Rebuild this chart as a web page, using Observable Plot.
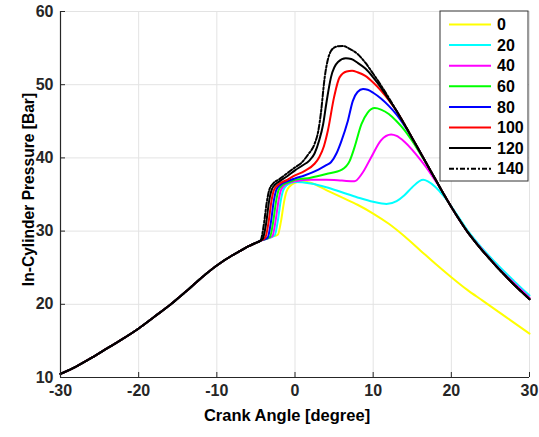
<!DOCTYPE html>
<html>
<head>
<meta charset="utf-8">
<script src="https://cdn.jsdelivr.net/npm/d3@7"></script>
<script src="https://cdn.jsdelivr.net/npm/@observablehq/plot@0.6"></script>
<style>
  html, body { margin: 0; padding: 0; background: #fff; }
  #chart { width: 539px; height: 437px; overflow: hidden; }
</style>
</head>
<body>
<div id="chart"></div>
<script>
// ---- Data ----
const xTicks = [-30, -20, -10, 0, 10, 20, 30];
const yTicks = [10, 20, 30, 40, 50, 60];
const seriesNames = ["0", "20", "40", "60", "80", "100", "120", "140"];
const seriesColors = ["#ffff00", "#00ffff", "#ff00ff", "#00ff00", "#0000ff", "#ff0000", "#000000", "#000000"];

// shared compression stroke
const compression = [[-30,10.5],[-28,11.5],[-26,12.7],[-24,14.0],[-22,15.3],[-20,16.7],[-18,18.3],[-16,19.9],[-14,21.7],[-12,23.6],[-10,25.3],[-8,26.7],[-7,27.3],[-6,27.9],[-5,28.4]];
// shared expansion tail
const expansion = [[13,46.4],[14,44.6],[15,42.7],[16,40.8],[17,38.9],[18,37.0],[19,35.1],[20,33.3],[21,31.6],[22,30.0],[23,28.6],[24,27.3],[25,26.1],[26,24.9],[27,23.8],[28,22.7],[29,21.7],[30,20.7]];

const s0   = [[-4.4,28.7],[-3,29.2],[-2.2,29.5],[-1.8,31.3],[-1.4,34.0],[-1.1,35.4],[-0.6,36.2],[0,36.6],[1,36.8],[2,36.6],[4,35.6],[6,34.6],[8,33.6],[10,32.4],[12,31.0],[14,29.3],[16,27.4],[18,25.5],[20,23.7],[22,22.0],[24,20.5],[26,19.0],[28,17.5],[30,16.0]];
const s20  = [[-4.4,28.7],[-2.6,29.4],[-2.2,31.4],[-1.8,34.3],[-1.5,35.6],[-1.0,36.3],[0,36.7],[2,36.5],[4,36.0],[6,35.3],[8,34.6],[10,34.0],[11.7,33.7],[13,34.1],[14,34.9],[15,36.0],[16.4,37.0],[17,36.8],[18,36.0],[19,34.8],[20,33.4],[21,31.8],[22,30.2],[24,27.6],[26,25.3],[28,23.2],[30,21.2]];
const s40  = [[-4.4,28.7],[-2.9,29.3],[-2.5,31.3],[-2.1,34.2],[-1.8,35.6],[-1.3,36.3],[0,36.8],[2,37.0],[4,37.0],[6,36.9],[7.6,36.8],[8.6,37.9],[9.7,40.0],[11,42.4],[12.3,43.2],[13,43.0],[14,42.2],[15,41.1],[16,39.8],[17,38.4],[18,36.8],[19,35.1],[20,33.3],[22,30.0],[24,27.4],[26,25.0],[28,22.9],[30,20.9]];
const s60  = [[-4.4,28.7],[-3.2,29.2],[-2.8,31.2],[-2.4,34.2],[-2.1,35.6],[-1.6,36.3],[-1,36.6],[0,37.0],[2,37.3],[4,37.8],[6,38.4],[7,39.6],[7.6,41.4],[8.5,44.6],[9.3,46.2],[10.2,46.8],[11,46.6],[12,46.0],[13,45.0],[14,43.8],[15,42.3],[16,40.6]];
const s80  = [[-4.4,28.7],[-3.5,29.1],[-3.1,31.1],[-2.7,34.2],[-2.4,35.6],[-1.9,36.3],[-1,36.8],[0,37.2],[1.2,37.6],[3,38.4],[4.0,39.0],[4.6,39.4],[5.3,40.6],[5.9,42.2],[6.75,45.0],[7.4,47.8],[8.0,49.0],[8.7,49.4],[9.3,49.3],[10,48.9],[11,48.1],[12,47.1],[13,45.9],[14,44.4]];
const s100 = [[-4.4,28.7],[-3.8,29.1],[-3.4,31.1],[-3.0,34.2],[-2.7,35.6],[-2.2,36.3],[-1,37.0],[0,37.6],[1.2,38.2],[2.5,39.2],[3.1,40.1],[3.7,41.6],[4.2,43.7],[5.0,48.3],[5.7,51.0],[6.6,51.8],[7.3,51.9],[8,51.7],[9,51.2],[10,50.3],[11,49.2],[12,47.9]];
const s120 = [[-4.4,28.7],[-4.1,29.0],[-3.7,31.0],[-3.3,34.2],[-3.0,35.6],[-2.5,36.4],[-2,36.8],[-1,37.5],[0,38.3],[1,39.0],[1.8,39.6],[2.5,40.6],[3.1,42.4],[3.6,44.6],[4.0,47.4],[4.6,51.0],[5.5,53.1],[6.5,53.6],[7.2,53.5],[8,53.0],[9,52.2],[10,51.0],[11,49.6],[12,48.0]];
const s140 = [[-4.4,28.7],[-4.0,30.8],[-3.6,34.0],[-3.3,35.6],[-2.8,36.5],[-2,37.1],[-1,37.9],[0,38.7],[0.8,39.3],[1.7,40.5],[2.5,41.9],[3.0,43.8],[3.3,46.0],[3.8,51.0],[4.6,54.6],[5.3,55.2],[6.1,55.3],[7,54.9],[8,54.2],[9,53.0],[10,51.5],[11,49.9],[12,48.2]];

const seriesValues = [s0, s20, s40, s60, s80, s100, s120, s140];

// ---- Build full curves ----
function buildSeries(own) {
  const last = own[own.length - 1][0];
  const tail = last >= 30 ? [] : expansion.filter(d => d[0] > last);
  return compression.concat(own, tail).map(([a, p]) => ({angle: a, p}));
}
const curves = seriesValues.map(buildSeries);

const W = 539, H = 437;
const mL = 60, mR = 10, mT = 11, mB = 60;
const frameW = W - mL - mR, frameH = H - mT - mB;
const axisColor = "#262626";
const fontFam = "'Liberation Sans', Arial, sans-serif";
const dashPattern = "5,2,2,2";

const lineMarks = curves.map((data, i) => Plot.line(data, {
  x: "angle", y: "p",
  stroke: seriesColors[i],
  strokeWidth: 2,
  strokeDasharray: seriesNames[i] === "140" ? dashPattern : null,
  curve: "monotone-x"
}));

const chart = Plot.plot({
  width: W, height: H,
  marginLeft: mL, marginRight: mR, marginTop: mT, marginBottom: mB,
  style: {fontFamily: fontFam, fontSize: "16px", fontWeight: "bold", color: axisColor, background: "#fff"},
  x: {domain: [xTicks[0], xTicks[xTicks.length - 1]]},
  y: {domain: [yTicks[0], yTicks[yTicks.length - 1]]},
  marks: [
    Plot.gridX(xTicks, {stroke: "#e3e3e3", strokeOpacity: 1}),
    Plot.gridY(yTicks, {stroke: "#e3e3e3", strokeOpacity: 1}),
    ...lineMarks,
    Plot.ruleX([xTicks[0]], {stroke: axisColor, strokeWidth: 1.2}),
    Plot.ruleY([yTicks[0]], {stroke: axisColor, strokeWidth: 1.2}),
    Plot.tickX(xTicks, {x: d => d, insetTop: frameH - 5, stroke: axisColor}),
    Plot.tickY(yTicks, {y: d => d, insetRight: frameW - 5, stroke: axisColor}),
    Plot.axisX(xTicks, {tickSize: 0, tickPadding: 7, label: null, fill: axisColor, tickFormat: d => String(d)}),
    Plot.axisY(yTicks, {tickSize: 0, tickPadding: 7, label: null, fill: axisColor, tickFormat: d => String(d)}),
    Plot.text(["Crank Angle [degree]"], {frameAnchor: "bottom", textAnchor: "middle", text: d => d, dy: 43, dx: -8, fontSize: 16.5, fill: "#000"}),
    Plot.text(["In-Cylinder Pressure [Bar]"], {frameAnchor: "left", textAnchor: "middle", text: d => d, rotate: -90, dx: -32, dy: -5, fontSize: 15.6, fill: "#000"})
  ]
});

document.getElementById("chart").appendChild(chart);

// ---- Legend (layout drawn with d3 into the same SVG) ----
const svg = d3.select(chart);
const lg = svg.append("g").attr("class", "legend");
const lx = 440, ly = 11, lw = 88, lh = 170;
lg.append("rect").attr("x", lx).attr("y", ly).attr("width", lw).attr("height", lh)
  .attr("fill", "#fff").attr("stroke", "#333").attr("stroke-width", 1);
seriesNames.forEach((name, i) => {
  const y = 24.5 + i * 20.6;
  lg.append("line").attr("x1", 449).attr("x2", 491).attr("y1", y).attr("y2", y)
    .attr("stroke", seriesColors[i]).attr("stroke-width", 2)
    .attr("stroke-dasharray", name === "140" ? dashPattern : null);
  lg.append("text").attr("x", 497).attr("y", y).attr("dy", "0.36em")
    .attr("text-anchor", "start")
    .attr("font-size", 16).attr("font-weight", "bold").attr("fill", "#000")
    .attr("font-family", fontFam).text(name);
});
</script>
</body>
</html>
